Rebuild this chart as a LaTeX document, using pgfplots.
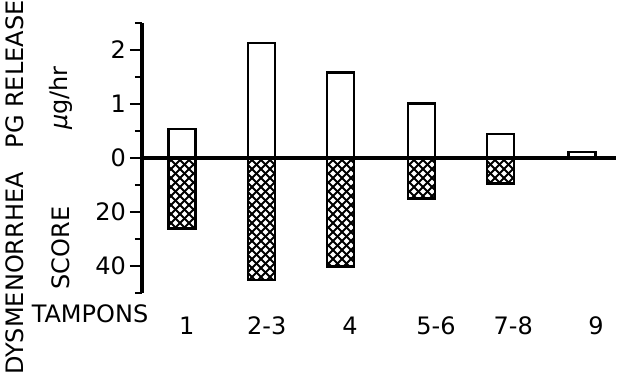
\documentclass[border=0pt]{standalone}
\usepackage{pgfplots}
\pgfplotsset{compat=1.18}
\usepackage{pgfplotstable}
\usepackage{fontspec}
\setmainfont{DejaVu Sans}
\usetikzlibrary{patterns.meta}
\tikzdeclarepattern{
  name=xhatch,
  type=uncolored,
  bottom left={(-0.5pt,-0.5pt)},
  top right={(9.5pt,9.5pt)},
  tile size={(9pt,9pt)},
  code={
    \draw[line width=1.9pt] (-0.5pt,-0.5pt) -- (9.5pt,9.5pt);
    \draw[line width=1.9pt] (-0.5pt,9.5pt) -- (9.5pt,-0.5pt);
  }
}
\newcommand{\bigf}{\fontsize{24}{28}\selectfont}
\pgfplotstableread{
x     pg     score
0.00  0.54   26.1
0.99  2.13   45.3
1.98  1.585  40.2
2.99  1.01   15.0
3.98  0.445  9.4
5.00  0.116  0
}\datatab
\begin{document}
\begin{tikzpicture}
\begin{axis}[
  scale only axis, width=474pt, height=270pt,
  xmin=-0.5, xmax=5.425, ymin=-2.5, ymax=2.5,
  axis y line*=left, axis x line*=bottom,
  x axis line style={draw=none},
  y axis line style={line width=3.5pt},
  xtick={0.06,1.06,2.1,3.175,4.14,5.175},
  xticklabels={1,2-3,4,5-6,7-8,9},
  xtick style={draw=none},
  xticklabel style={anchor=base, yshift=-29pt, inner sep=0pt},
  ytick={-2,-1,0,1,2}, yticklabels={40,20,0,1,2},
  minor ytick={-2.5,-1.5,-0.5,0.5,1.5,2.5},
  tick align=outside, major tick length=12pt, minor tick length=7pt,
  ytick style={line width=2.4pt, black},
  minor tick style={line width=2.4pt, black},
  tick label style={font=\bigf},
  yticklabel style={inner sep=0pt, xshift=-4pt},
  /pgf/number format/assume math mode=true,
  clip=false,
]
\addplot[ybar, bar width=27pt, bar shift=0pt, draw=black, line width=2.3pt, fill=white]
  table[x=x, y=pg] {\datatab};
\addplot[ybar, bar width=27pt, bar shift=0pt, draw=black, line width=2.3pt,
  pattern={xhatch}, pattern color=black]
  table[x=x, y expr=-\thisrow{score}/20] {\datatab};
\draw[line width=3.5pt] (axis cs:-0.5,0) -- (axis cs:5.425,0);
\end{axis}
\node[rotate=90, font=\bigf, inner sep=0pt] at (-127pt,19.5pt) {DYSMENORRHEA};
\node[rotate=90, font=\bigf, inner sep=0pt] at (-127pt,218.5pt) {PG RELEASE};
\node[rotate=90, font=\bigf, inner sep=0pt] at (-81pt,45pt) {SCORE};
\node[rotate=90, font=\bigf, inner sep=0pt] at (-81pt,195pt) {{\itshape μ}g/hr};
\node[anchor=base, font=\bigf, inner sep=0pt] at (-52pt,-29pt) {TAMPONS};
\pgfresetboundingbox
\path[use as bounding box] (-142pt,-83pt) rectangle (477pt,293pt);
\end{tikzpicture}
\end{document}
